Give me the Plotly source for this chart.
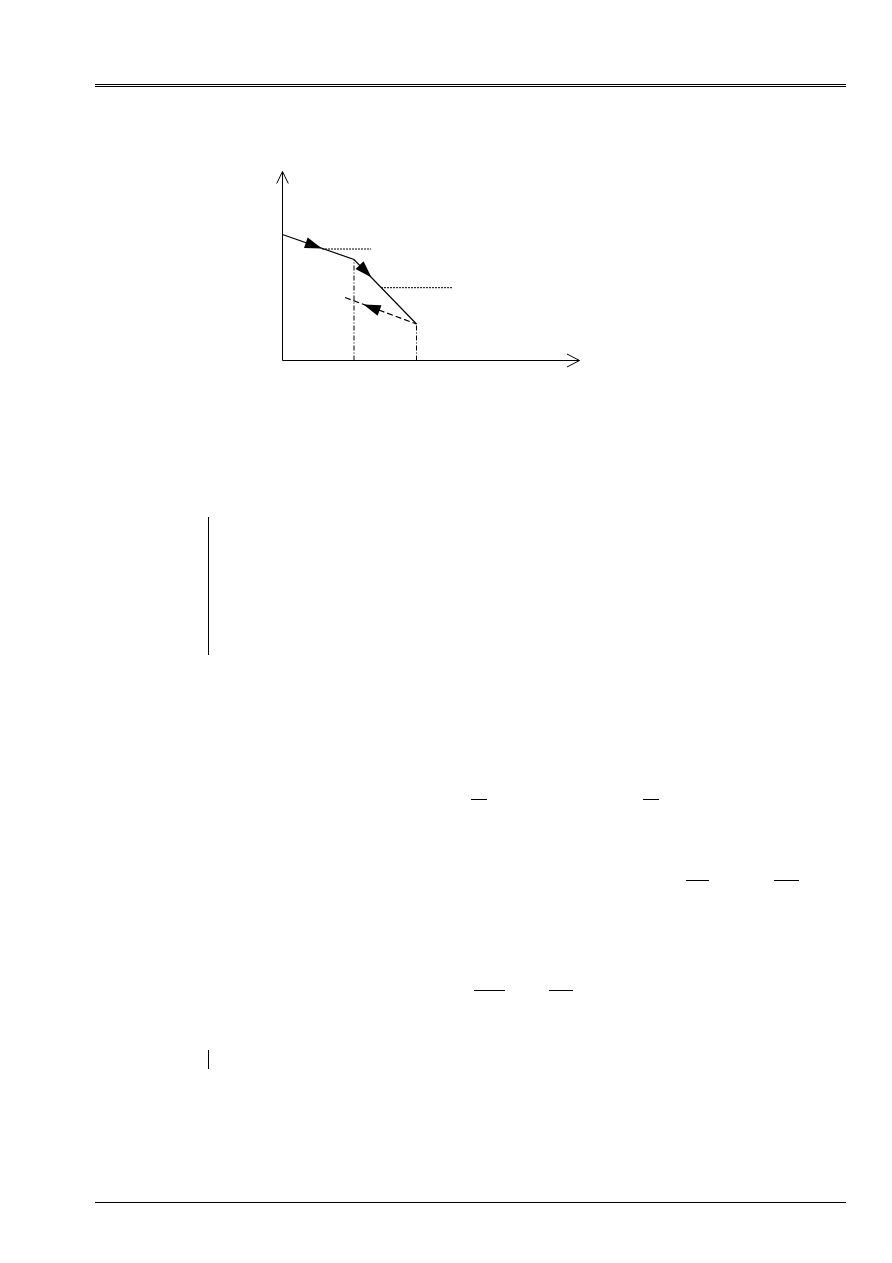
import math
import plotly.graph_objects as go

W, H = 892, 1263
PAD = 8  # the page body adds an 8px margin around the plot

# diagram values (1 unit = 10 px on the page)
solid_x = [0.0, 7.15, 13.4]
solid_y = [12.6, 10.1, 3.65]
dashed_x = [6.25, 13.4]
dashed_y = [6.3, 3.65]
guide1_x = [3.95, 8.85]
guide1_y = [11.15, 11.15]
guide2_x = [9.85, 17.0]
guide2_y = [7.28, 7.28]
drop_x = [7.15, 13.4]
drop_top = [10.1, 3.65]
axis_x_end = 29.7
axis_y_end = 18.9

# arrowheads on the curves: tip and direction
tips_x = [3.95, 8.9, 8.1]
tips_y = [11.2, 8.3, 5.6]
dir_dx = [7.15, 6.25, -7.15]
dir_dy = [-2.5, -6.45, 2.65]

# page furniture, in page pixels
header_y = [84.5, 86.5]
footer_y = 1202.5
rule_x = [95, 846]
bar_x = 208.5
bars_y = [(517, 655), (1050, 1069)]
frac_rows = [799.5, 880.5, 990.5]
frac_x = [[(471, 487), (643, 659)],
          [(686, 709), (774, 799)],
          [(474, 505), (549, 573)]]

fig = go.Figure()
line_k = dict(color="black", width=1)


def diag(x, y, **kw):
    fig.add_trace(go.Scatter(x=x, y=y, mode="lines", xaxis="x", yaxis="y",
                             hoverinfo="skip", showlegend=False, **kw))


def page(x, y, width=1.0):
    fig.add_trace(go.Scatter(x=x, y=y, mode="lines", xaxis="x2", yaxis="y2",
                             line=dict(color="black", width=width),
                             hoverinfo="skip", showlegend=False))


# axes with open arrowheads
diag([0, 0, axis_x_end], [axis_y_end, 0, 0], line=line_k)
diag([-0.58, 0, 0.58], [axis_y_end - 1.2, axis_y_end, axis_y_end - 1.2], line=line_k)
diag([axis_x_end - 1.25, axis_x_end, axis_x_end - 1.25], [0.65, 0, -0.65], line=line_k)

# curves
diag(solid_x, solid_y, line=dict(color="black", width=1.2))
diag(dashed_x, dashed_y, line=dict(color="black", width=1.2, dash="6px,3px"))
diag(guide1_x, guide1_y, line=dict(color="black", width=1, dash="2px,1px"))
diag(guide2_x, guide2_y, line=dict(color="black", width=1, dash="2px,1px"))
for dx, top in zip(drop_x, drop_top):
    diag([dx, dx], [0, top], line=dict(color="black", width=1, dash="5px,2px,1px,2px"))

angles = [math.degrees(math.atan2(a, b)) for a, b in zip(dir_dx, dir_dy)]
fig.add_trace(go.Scatter(x=tips_x, y=tips_y, mode="markers", xaxis="x", yaxis="y",
                         marker=dict(symbol="arrow", size=18, color="black",
                                     angle=angles, line=dict(width=0)),
                         hoverinfo="skip", showlegend=False))

# header / footer rules
for y in header_y:
    page(rule_x, [y, y], 1.0)
page(rule_x, [footer_y, footer_y], 1.0)

# change bars
for y0, y1 in bars_y:
    page([bar_x, bar_x], [y0, y1], 1.0)

# fraction bars
for y, row in zip(frac_rows, frac_x):
    for x0, x1 in row:
        page([x0, x1], [y, y], 1.0)

fw, fh = W - PAD, H - PAD
ox, oy = 282.5 - PAD, 360.5 - PAD
fig.update_layout(
    width=fw, height=fh,
    margin=dict(l=0, r=0, t=0, b=0),
    paper_bgcolor="white", plot_bgcolor="rgba(0,0,0,0)",
    xaxis=dict(domain=[(ox - 20) / fw, (ox + 300) / fw], range=[-2, 30], visible=False),
    yaxis=dict(domain=[1 - (oy + 20) / fh, 1 - (oy - 200) / fh], range=[-2, 20], visible=False),
    xaxis2=dict(domain=[0, 1], range=[PAD, W], visible=False, anchor="y2"),
    yaxis2=dict(domain=[0, 1], range=[H, PAD], visible=False, anchor="x2"),
)

fig.write_html("out.html")
